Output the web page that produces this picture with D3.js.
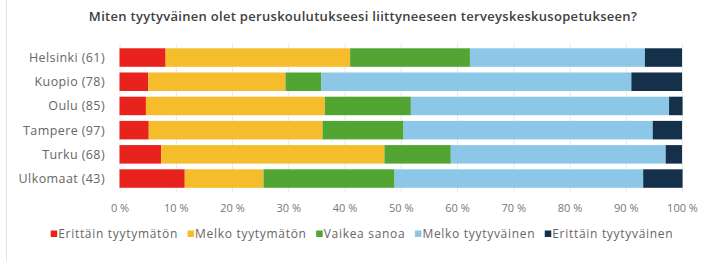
<!DOCTYPE html>
<html>
<head>
<meta charset="utf-8">
<script src="https://cdn.jsdelivr.net/npm/d3@7"></script>
<style>
  body { margin: 0; background: #fff; }
  text { font-family: "Open Sans", Roboto, sans-serif; }
</style>
</head>
<body>
<div id="canvas"></div>
<script>
const title = 'Miten tyytyväinen olet peruskoulutukseesi liittyneeseen terveyskeskusopetukseen?';
const categories = ['Helsinki (61)', 'Kuopio (78)', 'Oulu (85)', 'Tampere (97)', 'Turku (68)', 'Ulkomaat (43)'];
const seriesNames = ['Erittäin tyytymätön', 'Melko tyytymätön', 'Vaikea sanoa', 'Melko tyytyväinen', 'Erittäin tyytyväinen'];
const colors = ['#e8231d', '#f5bd2b', '#52a533', '#8dc7e8', '#15304a'];
// percentages per category, one array per series
const veryUnsatisfied = [8.2, 5.1, 4.7, 5.2, 7.4, 11.6];
const fairlyUnsatisfied = [32.8, 24.4, 31.8, 30.9, 39.7, 14.0];
const hardToSay = [21.3, 6.4, 15.3, 14.4, 11.8, 23.3];
const fairlySatisfied = [31.1, 55.1, 45.9, 44.3, 38.2, 44.2];
const verySatisfied = [6.6, 9.0, 2.4, 5.2, 2.9, 7.0];
const tickValues = [0, 10, 20, 30, 40, 50, 60, 70, 80, 90, 100];

const width = 707, height = 261;
const svg = d3.select('#canvas')
  .append('svg')
    .attr('width', width)
    .attr('height', height);

// faint frame line on the left
svg.append('line')
  .attr('x1', 6.5).attr('x2', 6.5)
  .attr('y1', 0).attr('y2', height)
  .attr('stroke', '#e2e2e2');

svg.append('text')
  .attr('x', 363)
  .attr('y', 21)
  .attr('text-anchor', 'middle')
  .attr('font-size', 13)
  .attr('font-weight', 600)
  .attr('letter-spacing', 0.3)
  .attr('fill', '#404040')
  .text(title);

const x = d3.scaleLinear().domain([0, 100]).range([119.5, 682]);
const y = d3.scaleBand()
  .domain(categories)
  .range([45.45, 190.65])
  .paddingInner(0.235)
  .paddingOuter(0.1175);

// gridlines
svg.append('g')
  .selectAll('line')
  .data(tickValues)
  .join('line')
    .attr('x1', d => x(d) + 0.5)
    .attr('x2', d => x(d) + 0.5)
    .attr('y1', 44)
    .attr('y2', 192)
    .attr('stroke', '#e8e8e8');

const table = categories.map((c, i) => {
  const row = { cat: c };
  [veryUnsatisfied, fairlyUnsatisfied, hardToSay, fairlySatisfied, verySatisfied]
    .forEach((s, j) => row[seriesNames[j]] = s[i]);
  return row;
});
const stacked = d3.stack().keys(seriesNames)(table);

svg.append('g')
  .selectAll('g')
  .data(stacked)
  .join('g')
    .attr('fill', (d, i) => colors[i])
  .selectAll('rect')
  .data(d => d)
  .join('rect')
    .attr('x', d => x(d[0]))
    .attr('width', d => x(d[1]) - x(d[0]))
    .attr('y', d => y(d.data.cat))
    .attr('height', y.bandwidth());

// category labels
svg.append('g')
  .selectAll('text')
  .data(categories)
  .join('text')
    .attr('x', 105)
    .attr('y', d => y(d) + y.bandwidth() / 2)
    .attr('dy', '0.36em')
    .attr('text-anchor', 'end')
    .attr('font-size', 12.5)
    .attr('letter-spacing', 0.4)
    .attr('fill', '#666')
    .text(d => d);

// x axis tick labels
const xAxis = d3.axisBottom(x)
  .tickValues(tickValues)
  .tickFormat(d => d + ' %')
  .tickSize(0)
  .tickPadding(0);
const axisG = svg.append('g')
  .attr('transform', 'translate(0,204)')
  .call(xAxis);
axisG.select('.domain').remove();
axisG.selectAll('text')
  .attr('font-family', '"Open Sans", sans-serif')
  .attr('font-size', 11)
  .attr('fill', '#777');

// legend
const legend = svg.append('g').attr('transform', 'translate(50.7,0)');
let lx = 0;
seriesNames.forEach((name, i) => {
  const item = legend.append('g').attr('transform', `translate(${lx},0)`);
  item.append('rect')
    .attr('x', 0).attr('y', 230.5)
    .attr('width', 6.5).attr('height', 6.5)
    .attr('fill', colors[i]);
  const t = item.append('text')
    .attr('x', 7.5)
    .attr('y', 237.5)
    .attr('font-size', 12)
    .attr('letter-spacing', 0.7)
    .attr('fill', '#666')
    .text(name);
  lx += 7.5 + t.node().getComputedTextLength() + 9.5;
});
</script>
</body>
</html>
